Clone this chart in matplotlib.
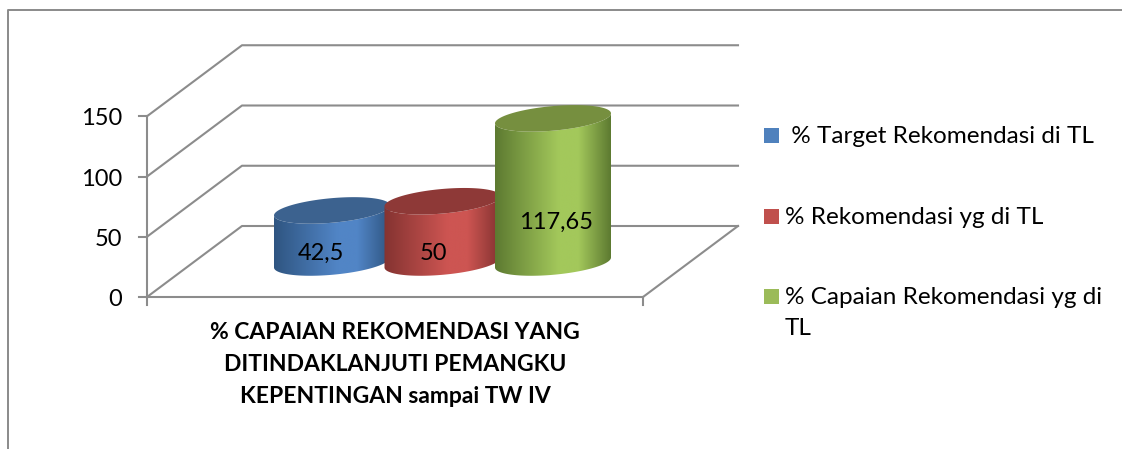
import matplotlib
matplotlib.use('Agg')
import matplotlib.pyplot as plt
import numpy as np
from matplotlib.colors import LinearSegmentedColormap
from matplotlib.patches import Polygon, Rectangle

plt.rcParams['font.family'] = ['Lato', 'DejaVu Sans']

# data
series_names = [' % Target Rekomendasi di TL', '% Rekomendasi yg di TL', '% Capaian Rekomendasi yg di\nTL']
series_values = [42.5, 50, 117.65]
value_labels = ['42,5', '50', '117,65']
y_ticks = [0, 50, 100, 150]
category = '% CAPAIAN REKOMENDASI YANG\nDITINDAKLANJUTI PEMANGKU\nKEPENTINGAN sampai TW IV'

# edge, peak, top face, legend colour of each cylinder
edge_colors = ['#2f5581', '#843331', '#5d7a31']
peak_colors = ['#5185c6', '#cd5552', '#a3c85b']
top_colors = ['#3c628f', '#8e3937', '#768f3f']
legend_colors = ['#4f81bd', '#c0504d', '#9bbb59']

grid_color = '#8c8c8c'

# box geometry, in pixels of the picture
left, right = 147, 643
floor_y = 297
depth_x, depth_y = 95, 71
px_per_unit = 1.205

# cylinders
centers = [332, 442.5, 553]
base_y = 262.5
radius_x = 58
radius_y = 12.3
tilt = 5
cyl_per_unit = 1.225


def val_y(v):
    return floor_y - v * px_per_unit


def ellipse_pts(cx, cy, t):
    return cx + radius_x * np.cos(t), cy + radius_y * np.sin(t) - tilt * np.cos(t)


def draw_cylinder(ax, cx, value, edge, peak, top, z):
    top_y = base_y - value * cyl_per_unit
    # body outline: front of the bottom ellipse, then back along the top ellipse
    t1 = np.linspace(np.pi, 0, 80)
    t2 = np.linspace(0, np.pi, 80)
    x1, y1 = ellipse_pts(cx, base_y, t1)
    x2, y2 = ellipse_pts(cx, top_y, t2)
    body = np.column_stack([np.r_[x1, x2], np.r_[y1, y2]])

    cmap = LinearSegmentedColormap.from_list('c', [(0, edge), (0.55, peak), (0.72, peak), (1, edge)])
    grad = np.linspace(0, 1, 256).reshape(1, -1)
    im = ax.imshow(grad, cmap=cmap, aspect='auto', zorder=z,
                   extent=[cx - radius_x, cx + radius_x, base_y + 20, top_y - 20])
    clip = Polygon(body, closed=True, transform=ax.transData, fc='none', ec='none')
    ax.add_patch(clip)
    im.set_clip_path(clip)

    t = np.linspace(0, 2 * np.pi, 160)
    x3, y3 = ellipse_pts(cx, top_y, t)
    ax.fill(x3, y3, color=top, lw=0, zorder=z + 0.1)


fig = plt.figure(figsize=(11.22, 4.49), dpi=100)
ax = fig.add_axes([0, 0, 1, 1])
ax.set_xlim(0, 1122)
ax.set_ylim(449, 0)
ax.axis('off')

# outer frame (only top and left show)
ax.plot([8.5, 8.5, 1122], [449, 10, 10], color='#8a8a8a', lw=1.4, zorder=1)

# back wall lines and side wall diagonals
for v in y_ticks:
    y = val_y(v)
    ax.plot([left, left + depth_x, right + depth_x],
            [y, y - depth_y, y - depth_y], color=grid_color, lw=1.5, zorder=2)
    ax.plot([left - 8, left], [y, y], color=grid_color, lw=1.5, zorder=2)
    ax.text(122, y + 2.5, str(v), ha='right', va='center', fontsize=17, color='black')

# floor and axis lines
ax.plot([left, left], [val_y(y_ticks[-1]), floor_y + 8], color=grid_color, lw=1.5, zorder=2)
ax.plot([left, right], [floor_y, floor_y], color=grid_color, lw=1.5, zorder=2)
ax.plot([right, right], [floor_y, floor_y + 8], color=grid_color, lw=1.5, zorder=2)
ax.plot([right, right + depth_x], [floor_y, floor_y - depth_y], color=grid_color, lw=1.5, zorder=2)

for i, v in enumerate(series_values):
    draw_cylinder(ax, centers[i], v, edge_colors[i], peak_colors[i], top_colors[i], 3 + i)

label_x = [321, 433.5, 556]
label_y = [253, 253, 222]
for i, lab in enumerate(value_labels):
    ax.text(label_x[i], label_y[i], lab, ha='center', va='center', fontsize=17,
            color='black', zorder=8)

# category label
ax.text(395, 364.5, category, ha='center', va='center', fontsize=16.5, fontweight='bold',
        linespacing=1.63, color='black')

# legend
legend_y = [135.5, 216.5, 296.5]
for i, name in enumerate(series_names):
    ax.add_patch(Rectangle((764, legend_y[i] - 7.5), 15, 15, fc=legend_colors[i], ec='none'))
    ax.text(785, legend_y[i] - 9.5, name, ha='left', va='top', fontsize=17.5,
            linespacing=1.57, color='black')

fig.savefig('out.png', dpi=100)
